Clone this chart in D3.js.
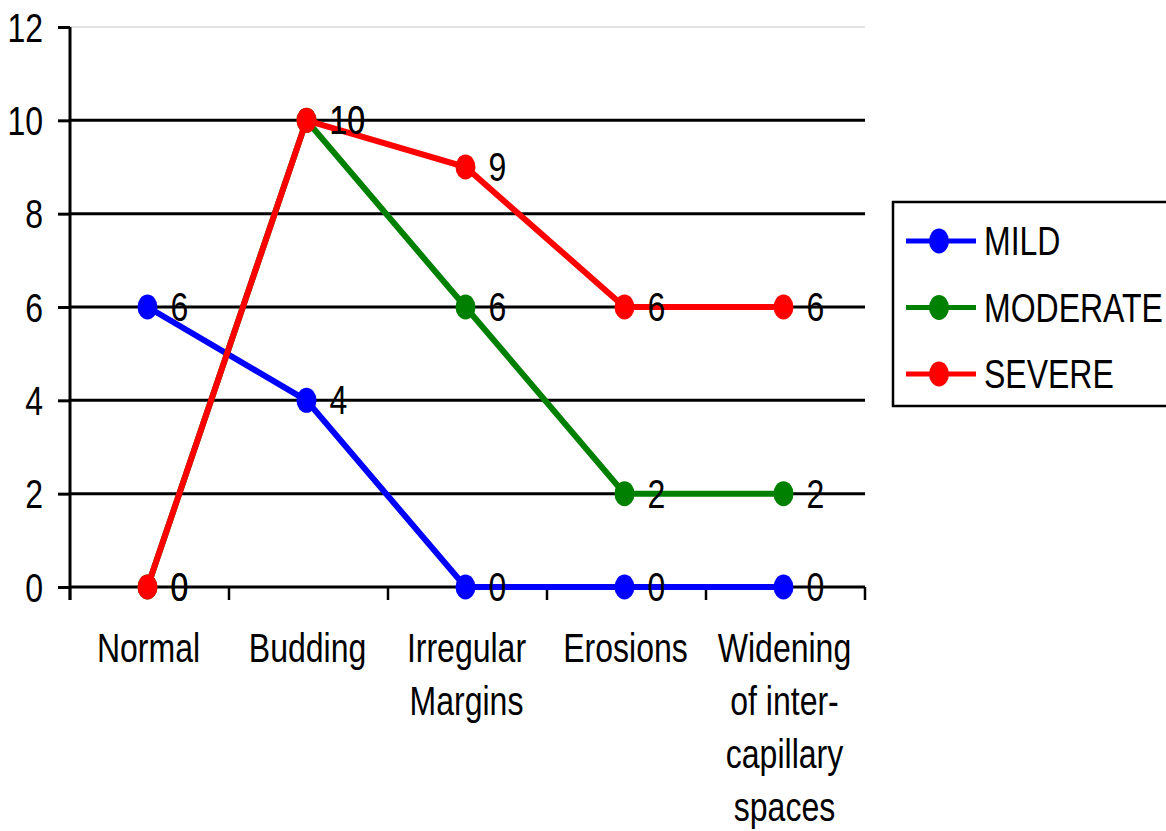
<!DOCTYPE html>
<html>
<head>
<meta charset="utf-8">
<script src="https://cdn.jsdelivr.net/npm/d3@7"></script>
<style>
  body { margin: 0; background: #fff; }
  text { font-family: "Liberation Sans", Arial, sans-serif; fill: #000; }
</style>
</head>
<body>
<div id="chart"></div>
<script>
// chart data
const categories = ["Normal", "Budding", "Irregular Margins", "Erosions", "Widening of inter-capillary spaces"];
const categoryLines = [["Normal"], ["Budding"], ["Irregular", "Margins"], ["Erosions"], ["Widening", "of inter-", "capillary", "spaces"]];
const seriesNames = ["MILD", "MODERATE", "SEVERE"];
const seriesColors = ["#0000ff", "#008000", "#ff0000"];
const mild = [6, 4, 0, 0, 0];
const moderate = [0, 10, 6, 2, 2];
const severe = [0, 10, 9, 6, 6];
const yTicks = [0, 2, 4, 6, 8, 10, 12];

const svgWidth = 1166;
const svgHeight = 831;
const margin = { top: 27, right: 301, bottom: 244, left: 70 };
const chartWidth = svgWidth - margin.left - margin.right;
const chartHeight = svgHeight - margin.top - margin.bottom;

// the original uses a narrow font, so squeeze the text horizontally
const fontSize = 40;
const squeeze = 0.8;
const capMid = 14;

const series = [mild, moderate, severe].map((vals, i) => ({
  name: seriesNames[i],
  color: seriesColors[i],
  values: vals
}));

function narrowText(parent, x, y, str, anchor) {
  return parent.append("g")
    .attr("transform", `translate(${x}, ${y}) scale(${squeeze}, 1)`)
    .append("text")
    .attr("text-anchor", anchor || "start")
    .attr("font-size", fontSize)
    .text(str);
}

const svg = d3.select("#chart")
  .append("svg")
  .attr("width", svgWidth)
  .attr("height", svgHeight);

const chartGroup = svg.append("g")
  .attr("transform", `translate(${margin.left}, ${margin.top})`);

const xScale = d3.scaleBand()
  .domain(categories)
  .range([0, chartWidth]);

const yScale = d3.scaleLinear()
  .domain([0, 12])
  .range([chartHeight, 0]);

const xPos = c => xScale(c) + xScale.bandwidth() / 2 - 2;

// top border
chartGroup.append("line")
  .attr("x1", 0).attr("x2", chartWidth)
  .attr("y1", 0).attr("y2", 0)
  .attr("stroke", "#d9d9d9")
  .attr("stroke-width", 1.5);

// gridlines
chartGroup.selectAll(".grid")
  .data(yTicks.filter(d => d > 0 && d < 12))
  .enter()
  .append("line")
  .attr("x1", 0).attr("x2", chartWidth)
  .attr("y1", d => yScale(d)).attr("y2", d => yScale(d))
  .attr("stroke", "#000")
  .attr("stroke-width", 3);

// y axis
const leftAxis = d3.axisLeft(yScale)
  .tickValues(yTicks)
  .tickSize(12)
  .tickFormat("");

const yAxisG = chartGroup.append("g").call(leftAxis);
yAxisG.select(".domain").remove();
yAxisG.selectAll(".tick line").attr("stroke", "#000").attr("stroke-width", 3);
yAxisG.selectAll(".tick").each(function(d) {
  narrowText(d3.select(this), -27, capMid, d, "end");
});
chartGroup.append("line")
  .attr("x1", 0).attr("x2", 0)
  .attr("y1", 0).attr("y2", chartHeight + 13)
  .attr("stroke", "#000").attr("stroke-width", 3);

// x axis
chartGroup.append("line")
  .attr("x1", 0).attr("x2", chartWidth)
  .attr("y1", chartHeight).attr("y2", chartHeight)
  .attr("stroke", "#000").attr("stroke-width", 3);

const boundaries = categories.map(c => xScale(c)).concat([chartWidth]);
chartGroup.selectAll(".xtick")
  .data(boundaries)
  .enter()
  .append("line")
  .attr("x1", d => d).attr("x2", d => d)
  .attr("y1", chartHeight).attr("y2", chartHeight + 13)
  .attr("stroke", "#000").attr("stroke-width", 2.5);

// category labels
categories.forEach((c, i) => {
  categoryLines[i].forEach((line, j) => {
    narrowText(chartGroup, xScale(c) + xScale.bandwidth() / 2 - 1, chartHeight + 75 + j * 53, line, "middle");
  });
});

// lines, markers, labels
const line = d3.line()
  .x((d, i) => xPos(categories[i]))
  .y(d => yScale(d));

series.forEach(s => {
  const g = chartGroup.append("g");
  g.append("path")
    .datum(s.values)
    .attr("fill", "none")
    .attr("stroke", s.color)
    .attr("stroke-width", 6)
    .attr("d", line);

  g.selectAll("ellipse")
    .data(s.values)
    .enter()
    .append("ellipse")
    .attr("cx", (d, i) => xPos(categories[i]))
    .attr("cy", d => yScale(d))
    .attr("rx", 10)
    .attr("ry", 12.5)
    .attr("fill", s.color);

  s.values.forEach((v, i) => {
    narrowText(g, xPos(categories[i]) + 23, yScale(v) + capMid, v, "start");
  });
});

// legend
const legend = svg.append("g")
  .attr("transform", "translate(893, 202)");

legend.append("rect")
  .attr("x", 0).attr("y", 0)
  .attr("width", 290).attr("height", 204)
  .attr("fill", "#fff")
  .attr("stroke", "#000")
  .attr("stroke-width", 2.5);

series.forEach((s, i) => {
  const item = legend.append("g")
    .attr("transform", `translate(0, ${39 + i * 66.5})`);
  item.append("line")
    .attr("x1", 13).attr("x2", 83)
    .attr("y1", 0).attr("y2", 0)
    .attr("stroke", s.color)
    .attr("stroke-width", 5);
  item.append("ellipse")
    .attr("cx", 46).attr("cy", 0)
    .attr("rx", 10).attr("ry", 12.5)
    .attr("fill", s.color);
  narrowText(item, 91, capMid, s.name, "start");
});
</script>
</body>
</html>
